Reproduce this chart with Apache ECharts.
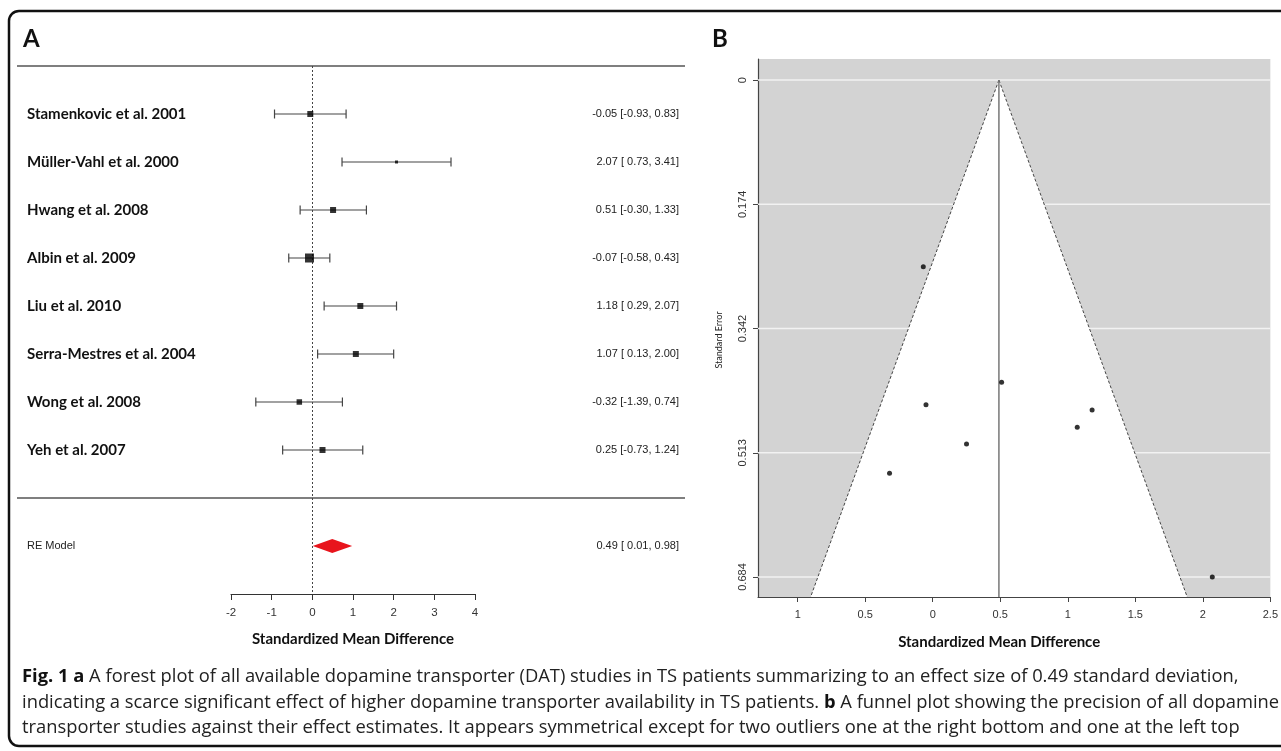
<!DOCTYPE html>
<html>
<head>
<meta charset="utf-8">
<script src="https://cdn.jsdelivr.net/npm/echarts@6/dist/echarts.min.js"></script>
<style>
html,body{margin:0;padding:0;background:#fff;}
#chart{width:1281px;height:751px;}
</style>
</head>
<body>
<div id="chart"></div>
<script>
// ---------- DATA ----------
const studies = ['Stamenkovic et al. 2001','Müller-Vahl et al. 2000','Hwang et al. 2008','Albin et al. 2009','Liu et al. 2010','Serra-Mestres et al. 2004','Wong et al. 2008','Yeh et al. 2007'];
const estimates = [-0.05, 2.07, 0.51, -0.07, 1.18, 1.07, -0.32, 0.25];
const lowerCI = [-0.93, 0.73, -0.30, -0.58, 0.29, 0.13, -1.39, -0.73];
const upperCI = [0.83, 3.41, 1.33, 0.43, 2.07, 2.00, 0.74, 1.24];
const weights = [12, 6, 12, 18, 12, 12, 11, 12];          // relative study weight (box size)
const reLabel = 'RE Model';
const reEstimate = 0.49, reLower = 0.01, reUpper = 0.98;
const forestTicks = [-2, -1, 0, 1, 2, 3, 4];
const funnelSE = [0.447, 0.684, 0.416, 0.257, 0.454, 0.478, 0.541, 0.501];
const funnelYTicks = [0, 0.171, 0.342, 0.513, 0.684];
const funnelYTickLabels = ['0', '0.174', '0.342', '0.513', '0.684'];
const funnelXTicks = [-1, -0.5, 0, 0.5, 1, 1.5, 2, 2.5];
const funnelXTickLabels = ['1', '0.5', '0', '0.5', '1', '1.5', '2', '2.5'];
const captionLines = [
  '{b|Fig. 1 a} A forest plot of all available dopamine transporter (DAT) studies in TS patients summarizing to an effect size of 0.49 standard deviation,',
  'indicating a scarce significant effect of higher dopamine transporter availability in TS patients. {b|b} A funnel plot showing the precision of all dopamine',
  'transporter studies against their effect estimates. It appears symmetrical except for two outliers one at the right bottom and one at the left top'
];

// ---------- helpers ----------
function fmt(v){ return v.toFixed(2); }
function fmtLo(v){ return (v < 0 ? '' : ' ') + v.toFixed(2); }
const rowCats = [''].concat(studies, ['', reLabel, '']); // 12 rows
const reRow = studies.length + 2;
const sepRows = [0, studies.length + 1];
const rightTexts = [''].concat(
  studies.map((s, i) => fmt(estimates[i]) + ' [' + fmtLo(lowerCI[i]) + ', ' + fmt(upperCI[i]) + ']'),
  ['', fmt(reEstimate) + ' [' + fmtLo(reLower) + ', ' + fmt(reUpper) + ']', '']);

const funnelXMin = -1.294, funnelXMax = 2.5, funnelYMin = -0.029, funnelYMax = 0.7115;

const chart = echarts.init(document.getElementById('chart'), null, {renderer: 'canvas'});

const narrow = "'Liberation Sans Narrow', 'Liberation Sans', Arial, sans-serif";
const sans = "'Liberation Sans', Arial, sans-serif";
const cal = "Lato, 'Open Sans', sans-serif";

const option = {
  animation: false,
  backgroundColor: '#fff',
  graphic: [
    {type: 'rect', shape: {x: 9, y: 11, width: 1320, height: 735, r: 10}, style: {fill: 'none', stroke: '#111', lineWidth: 2.5}, z: 100},
    {type: 'text', left: 23, top: 27, style: {text: 'A', font: 'bold 24px ' + cal, fill: '#111'}},
    {type: 'text', left: 712, top: 27, style: {text: 'B', font: 'bold 24px ' + cal, fill: '#111'}},
  ].concat(captionLines.map((t, i) => ({
    type: 'text', left: 22, top: 668 + i * 25.5,
    style: {text: t, font: "18.35px 'Open Sans', sans-serif", fill: '#222', rich: {b: {fontWeight: 'bold', fontSize: 18.35, fontFamily: 'Open Sans', fill: '#111'}}}
  }))),
  grid: [
    {left: 231, right: 1281 - 475, top: 66, height: 528},
    {left: 17, right: 1281 - 685, top: 66, height: 528},
    {left: 758, top: 59, width: 516, height: 538, show: true, backgroundColor: '#d3d3d3', borderWidth: 0}
  ],
  xAxis: [
    {gridIndex: 0, type: 'value', min: forestTicks[0], max: forestTicks[forestTicks.length - 1], interval: 1,
     axisLine: {show: true, lineStyle: {color: '#333', width: 1.2}},
     axisTick: {show: true, length: 6, lineStyle: {color: '#333'}},
     axisLabel: {color: '#333', fontSize: 11.5, fontFamily: narrow, margin: 13},
     splitLine: {show: false},
     name: 'Standardized Mean Difference', nameLocation: 'middle', nameGap: 38,
     nameTextStyle: {fontFamily: cal, fontWeight: 'bold', fontSize: 15, color: '#111'}},
    {gridIndex: 1, type: 'value', min: 0, max: 1, show: false},
    {gridIndex: 2, type: 'value', min: funnelXMin, max: funnelXMax,
     axisLine: {show: true, onZero: false, lineStyle: {color: '#444', width: 1.2}},
     axisTick: {show: true, length: 5, customValues: funnelXTicks, lineStyle: {color: '#444'}},
     axisLabel: {color: '#333', fontSize: 11, fontFamily: sans, margin: 12, customValues: funnelXTicks,
       formatter: v => { const k = funnelXTicks.findIndex(t => Math.abs(t - v) < 1e-6); return k >= 0 ? funnelXTickLabels[k] : ''; }},
     splitLine: {show: false},
     name: 'Standardized Mean Difference', nameLocation: 'middle', nameGap: 38,
     nameTextStyle: {fontFamily: cal, fontWeight: 'bold', fontSize: 15, color: '#111', padding: [0, 30, 0, 0]}}
  ],
  yAxis: [
    {gridIndex: 0, type: 'category', data: rowCats, inverse: true, boundaryGap: false, show: false},
    {gridIndex: 1, type: 'category', data: rowCats.map((c, i) => i === reRow ? {value: c, textStyle: {fontWeight: 'normal', fontSize: 11, fontFamily: narrow, color: '#222'}} : c),
     inverse: true, boundaryGap: false, position: 'left',
     axisLine: {show: false}, axisTick: {show: false}, splitLine: {show: false},
     axisLabel: {inside: true, margin: 10, interval: 0, fontFamily: cal, fontWeight: 'bold', fontSize: 15, color: '#111'}},
    {gridIndex: 1, type: 'category', data: rightTexts.map((t, i) => String(i)), inverse: true, boundaryGap: false, position: 'right',
     axisLine: {show: false}, axisTick: {show: false}, splitLine: {show: false},
     axisLabel: {inside: true, margin: 6, interval: 0, fontFamily: narrow, fontSize: 11, color: '#222',
       formatter: (v) => rightTexts[+v]}},
    {gridIndex: 2, type: 'value', min: funnelYMin, max: funnelYMax, inverse: true,
     axisLine: {show: true, onZero: false, lineStyle: {color: '#444', width: 1.2}},
     axisTick: {show: true, length: 5, customValues: funnelYTicks, lineStyle: {color: '#444'}},
     axisLabel: {color: '#333', fontSize: 11, fontFamily: sans, margin: 10, rotate: 90, customValues: funnelYTicks,
       formatter: v => { const k = funnelYTicks.findIndex(t => Math.abs(t - v) < 1e-6); return k >= 0 ? funnelYTickLabels[k] : ''; }},
     splitLine: {show: false},
     name: 'Standard Error', nameLocation: 'middle', nameGap: 34, nameRotate: 90,
     nameTextStyle: {fontFamily: cal, fontSize: 9, color: '#222', padding: [0, 24, 0, 0]}}
  ],
  series: [
    {type: 'custom', xAxisIndex: 1, yAxisIndex: 1, data: sepRows.map(r => [0, r]), silent: true,
     renderItem: (p, api) => {
       const a = api.coord([0, api.value(1)]), b = api.coord([1, api.value(1)]);
       return {type: 'line', shape: {x1: a[0], y1: a[1], x2: b[0], y2: b[1]}, style: {stroke: '#555', lineWidth: 1.5}};
     }},
    {type: 'custom', xAxisIndex: 0, yAxisIndex: 0, silent: true, clip: false,
     data: studies.map((s, i) => [lowerCI[i], upperCI[i], i + 1]),
     renderItem: (p, api) => {
       const a = api.coord([api.value(0), api.value(2)]), b = api.coord([api.value(1), api.value(2)]);
       const st = {stroke: '#444', lineWidth: 1.2};
       return {type: 'group', children: [
         {type: 'line', shape: {x1: a[0], y1: a[1], x2: b[0], y2: b[1]}, style: st},
         {type: 'line', shape: {x1: a[0], y1: a[1] - 4.5, x2: a[0], y2: a[1] + 4.5}, style: st},
         {type: 'line', shape: {x1: b[0], y1: b[1] - 4.5, x2: b[0], y2: b[1] + 4.5}, style: st}
       ]};
     }},
    {type: 'scatter', xAxisIndex: 0, yAxisIndex: 0, silent: true, symbol: 'rect',
     data: studies.map((s, i) => ({value: [estimates[i], i + 1], symbolSize: weights[i] * 0.5})),
     itemStyle: {color: '#000'}, z: 5,
     markLine: {silent: true, symbol: 'none', label: {show: false},
       lineStyle: {type: [2, 2], color: '#444', width: 1}, data: [{xAxis: 0}]}},
    {type: 'custom', xAxisIndex: 0, yAxisIndex: 0, silent: true,
     data: [[reLower, reEstimate, reUpper, reRow]],
     renderItem: (p, api) => {
       const l = api.coord([api.value(0), api.value(3)]), m = api.coord([api.value(1), api.value(3)]), r = api.coord([api.value(2), api.value(3)]);
       return {type: 'polygon', shape: {points: [l, [m[0], m[1] - 7], r, [m[0], m[1] + 7]]}, style: {fill: '#e8141c'}};
     }},
    {type: 'custom', xAxisIndex: 2, yAxisIndex: 3, silent: true, z: 1,
     data: funnelYTicks.map(v => [v]),
     renderItem: (p, api) => {
       const a = api.coord([funnelXMin, api.value(0)]), b = api.coord([funnelXMax, api.value(0)]);
       return {type: 'line', shape: {x1: a[0], y1: a[1], x2: b[0], y2: b[1]}, style: {stroke: '#f2f2f2', lineWidth: 1.5}};
     }},
    {type: 'custom', xAxisIndex: 2, yAxisIndex: 3, silent: true, z: 2,
     data: [[reEstimate, 0]],
     renderItem: (p, api) => {
       const c = api.value(0), se = funnelYMax;
       const a = api.coord([c, 0]), l = api.coord([c - 1.96 * se, se]), r = api.coord([c + 1.96 * se, se]), bm = api.coord([c, se]);
       const dash = {stroke: '#444', lineWidth: 1, lineDash: [3, 2]};
       return {type: 'group', children: [
         {type: 'polygon', shape: {points: [a, l, r]}, style: {fill: '#fff'}},
         {type: 'line', shape: {x1: a[0], y1: a[1], x2: l[0], y2: l[1]}, style: dash},
         {type: 'line', shape: {x1: a[0], y1: a[1], x2: r[0], y2: r[1]}, style: dash},
         {type: 'line', shape: {x1: a[0], y1: a[1], x2: bm[0], y2: bm[1]}, style: {stroke: '#777', lineWidth: 1.5}}
       ]};
     }},
    {type: 'scatter', xAxisIndex: 2, yAxisIndex: 3, silent: true, z: 5, symbol: 'circle', symbolSize: 5,
     data: estimates.map((e, i) => [e, funnelSE[i]]), itemStyle: {color: '#000'}}
  ]
};
chart.setOption(option);
</script>
</body>
</html>
